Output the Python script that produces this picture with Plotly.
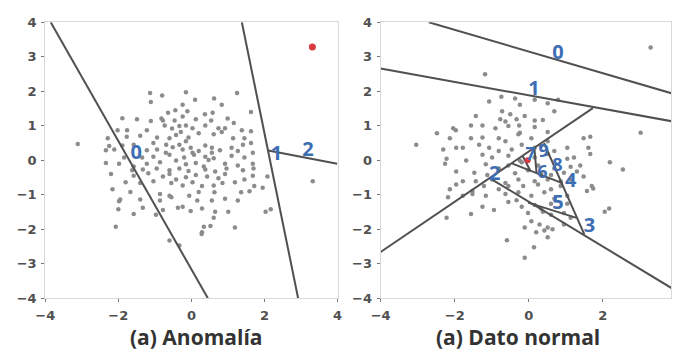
import plotly.graph_objects as go

# ---- panel (a) Anomalía : sample points ----
left_x = [-1.13, -0.80, -0.15, 0.10, 1.25, -1.11, -0.24, 0.62, 0.83, -0.44, -0.64, -0.11, 0.37, 0.58,
          -1.89, -1.49, -1.11, -0.82, -0.78, -0.46, -0.24, 0.12, 0.54, 0.99, 1.63, 1.16,
          -2.02, -1.76, -1.22, -0.73, -0.53, -0.33, -0.15, 0.03, 0.38, 0.74, 0.83, 0.92, 1.38, 1.63,
          -2.29, -1.77, -1.40, -0.94, -0.60, -0.42, -0.29, -0.08, 0.20, 0.61, 1.14, 1.45,
          -3.11, -2.25, -1.89, -1.58, -1.04, -0.69, -0.51, -0.33, -0.15, -0.02, 0.38, 0.56, 1.10, 1.41, 1.63,
          -2.34, -2.11, -1.22, -0.94, -0.70, -0.24, 0.03, 0.20, 0.56, 0.78, 1.27, 1.68,
          -1.84, -1.35, -1.04, -0.60, -0.20, 0.07, 0.38, 0.61, 1.10, 1.45,
          -2.34, -1.98, -1.58, -1.22, -0.86, -0.42, -0.15, 0.12, 0.34, 0.47, 0.92, 1.27, 1.68,
          -1.62, -1.33, -0.95, -0.60, -0.33, -0.08, 0.38, 0.65, 0.96, 1.41, 1.70,
          -2.20, -1.58, -1.18, -0.78, -0.60, -0.42, -0.15, 0.12, 0.43, 0.74, 0.92, 1.45, 1.68, 2.08,
          -1.80, -1.40, -1.04, -0.55, -0.24, 0.03, 0.29, 0.61, 0.85, 1.19, 1.72, 1.95,
          -2.16, -1.67, -0.86, -0.60, -0.55, -0.06, 0.20, 0.63, 1.36, 1.59,
          -1.95, -1.98, -1.40, -0.86, 0.16, 0.56, 0.92, 1.27, 2.17, 2.03,
          -2.00, -1.33, -0.78, -0.37, -0.24, -0.02, 0.29, 0.65, 1.01,
          -1.58, -0.97, -2.07, 0.34, 0.52, 1.19, 0.29, 0.28, 0.61, -0.60, -0.33, 3.32]
left_y = [1.95, 1.88, 1.97, 1.75, 1.95, 1.69, 1.61, 1.79, 1.61, 1.45, 1.38, 1.42, 1.33, 1.38,
          1.22, 1.19, 1.14, 1.21, 1.15, 1.15, 1.27, 1.19, 1.15, 1.21, 1.40, 1.08,
          0.87, 0.87, 0.87, 1.01, 0.92, 0.99, 1.01, 0.93, 1.01, 0.93, 0.82, 0.93, 0.87, 0.84,
          0.64, 0.68, 0.71, 0.66, 0.64, 0.73, 0.82, 0.66, 0.78, 0.75, 0.64, 0.64,
          0.47, 0.41, 0.43, 0.45, 0.50, 0.45, 0.38, 0.45, 0.55, 0.36, 0.43, 0.36, 0.36, 0.45, 0.50,
          0.29, 0.31, 0.29, 0.31, 0.22, 0.31, 0.22, 0.27, 0.22, 0.29, 0.27, 0.22,
          0.08, 0.08, 0.10, 0.16, 0.08, 0.16, 0.10, 0.06, 0.13, 0.08,
          -0.08, -0.10, -0.18, -0.10, -0.06, -0.01, -0.12, -0.08, -0.18, 0.01, -0.10, -0.15, -0.10,
          -0.29, -0.27, -0.24, -0.29, -0.24, -0.31, -0.27, -0.33, -0.24, -0.29, -0.24,
          -0.40, -0.45, -0.38, -0.47, -0.40, -0.56, -0.49, -0.43, -0.47, -0.52, -0.40, -0.56, -0.45, -0.47,
          -0.64, -0.66, -0.61, -0.66, -0.73, -0.64, -0.75, -0.73, -0.66, -0.64, -0.75, -0.80,
          -0.84, -0.92, -0.98, -1.03, -1.07, -1.03, -0.92, -0.93, -0.93, -0.90,
          -1.14, -1.19, -1.14, -1.17, -1.17, -1.17, -1.12, -1.17, -1.42, -1.49,
          -1.42, -1.38, -1.44, -1.38, -1.35, -1.47, -1.40, -1.49, -1.49,
          -1.56, -1.58, -1.93, -1.93, -1.91, -1.95, -2.09, -2.14, -1.67, -2.33, -2.47, -0.61]
left_anomaly_x = [3.31]
left_anomaly_y = [3.28]

# separating lines of the isolation tree, (a)
left_cut_x = [[-3.85, 0.45], [1.38, 2.92], [2.10, 3.99]]
left_cut_y = [[4.0, -4.0], [4.0, -4.0], [0.28, -0.10]]
left_label_text = ["0", "1", "2"]
left_label_x = [-1.51, 2.33, 3.19]
left_label_y = [0.18, 0.16, 0.27]
left_label_size = [20, 20, 20]

# ---- panel (a) Dato normal : sample points ----
right_x = [-1.18, 3.29, -1.07, -0.74, -0.37, -0.24, 0.16, 0.51, 0.79, -0.72, -0.50,
           -1.43, -0.77, -0.63, -0.33, -0.11, 0.16, 0.38, 0.69, -0.26,
           -2.04, -1.97, -1.56, -1.25, -0.90, -0.55, -0.24, 0.16, 0.51,
           -2.48, -2.13, -1.78, -1.56, -1.25, -0.81, -0.63, -0.28, 0.07, 0.51, 1.48, 1.66, 3.02,
           -3.04, -2.31, -1.96, -1.34, -1.07, -0.81, -0.46, -0.19, 0.16, 0.33, 0.69, 1.04, 1.61, 1.66,
           -2.22, -1.25, -0.99, -0.55, -0.24, 0.16, 0.51, 1.04, 1.22,
           -2.26, -1.69, -1.16, -0.81, -0.55, -0.19, 0.25, 0.69, 1.13, 1.39, 2.54, 2.19,
           -1.96, -1.47, -1.12, -0.37, -0.02, 0.33, 0.60, 0.95, 1.30,
           -1.78, -1.43, -0.99, -0.63, -0.28, 0.16, 0.51, 0.86, 1.13, 1.48, 1.70,
           -2.13, -1.96, -1.52, -1.21, -0.81, -0.55, -0.15, 0.25, 0.60, 0.86, 1.57, 1.74,
           -2.18, -1.78, -1.52, -1.16, -0.63, -0.28, 0.07, 0.42, 0.69, 1.04,
           -1.56, -1.25, -0.55, -0.33, -0.19, 0.16, 0.33, 0.60, 1.04,
           -2.22, -0.94, -0.02, 0.38, 0.60, 0.95, 1.13, 2.05, 2.17,
           0.07, 0.29, 0.51, 0.42, 0.64, -0.11, 0.95, 0.20, 0.51, -0.59, 0.14, -0.11]
right_y = [2.49, 3.27, 1.70, 1.84, 1.79, 1.61, 1.75, 1.65, 1.75, 1.42, 1.33,
           1.28, 1.19, 1.12, 1.19, 1.28, 1.15, 1.17, 1.42, 1.01,
           0.93, 0.87, 1.01, 1.01, 0.93, 0.99, 0.80, 0.96, 0.82,
           0.78, 0.64, 0.36, 0.64, 0.66, 0.64, 0.55, 0.75, 0.64, 0.55, 0.64, 0.68, 0.80,
           0.45, 0.31, 0.36, 0.45, 0.36, 0.27, 0.31, 0.45, 0.36, 0.41, 0.27, 0.36, 0.36, 0.18,
           0.04, 0.16, 0.08, 0.13, -0.01, 0.08, 0.18, 0.04, 0.08,
           -0.10, -0.01, -0.12, -0.24, -0.15, -0.06, -0.15, -0.24, -0.19, -0.15, -0.27, -0.06,
           -0.33, -0.36, -0.43, -0.38, -0.29, -0.38, -0.43, -0.36, -0.33,
           -0.61, -0.61, -0.56, -0.66, -0.56, -0.61, -0.56, -0.61, -0.56, -0.47, -0.75,
           -0.84, -0.70, -0.89, -0.75, -0.84, -0.75, -0.75, -0.70, -0.84, -0.75, -0.89, -0.82,
           -1.07, -1.03, -0.98, -1.03, -0.98, -0.93, -1.03, -0.93, -1.12, -1.03,
           -1.56, -1.35, -1.21, -1.16, -1.35, -1.30, -1.40, -1.26, -1.26,
           -1.67, -1.44, -1.53, -1.49, -1.58, -1.53, -1.67, -1.49, -1.40,
           -1.77, -1.86, -1.95, -2.04, -2.00, -1.95, -1.86, -2.09, -2.23, -2.32, -2.52, -2.83]
right_query_x = [-0.03]
right_query_y = [0.0]

# separating lines of the isolation tree, (b)
right_cut_x = [[-2.70, 3.86], [-4.0, 3.86], [-4.0, 1.73], [-0.99, 3.86], [0.41, 1.50],
               [-0.02, 1.29], [-0.46, 0.92], [-0.17, 0.04], [0.15, 0.21]]
right_cut_y = [[4.0, 1.94], [2.66, 1.13], [-2.66, 1.51], [-0.56, -3.71], [0.50, -2.15],
               [-1.23, -1.67], [-0.09, -0.67], [0.13, -0.30], [0.36, -0.37]]
right_label_text = ["0", "1", "2", "3", "4", "5", "6", "7", "8", "9"]
right_label_x = [0.79, 0.14, -0.92, 1.64, 1.13, 0.79, 0.37, 0.05, 0.77, 0.40]
right_label_y = [3.08, 2.04, -0.43, -1.93, -0.64, -1.26, -0.38, 0.14, -0.19, 0.22]
right_label_size = [20, 20, 20, 20, 20, 20, 18, 18, 18, 18]

tick_vals = [-4, -2, 0, 2, 4]
y_tick_vals = [-4, -3, -2, -1, 0, 1, 2, 3, 4]

POINT = "#8c8c8c"
CUT = "#505050"
LABEL = "#3d6db3"
RED = "#d93a3f"

fig = go.Figure()


def add_panel(px, py, cx, cy, lt, lx, ly, ls, hx, hy, xa, ya, red_size):
    fig.add_trace(go.Scatter(x=px, y=py, mode="markers", xaxis=xa, yaxis=ya,
                             marker=dict(size=4.5, color=POINT), hoverinfo="skip"))
    for sx, sy in zip(cx, cy):
        fig.add_trace(go.Scatter(x=sx, y=sy, mode="lines", xaxis=xa, yaxis=ya,
                                 line=dict(color=CUT, width=2), hoverinfo="skip"))
    fig.add_trace(go.Scatter(x=hx, y=hy, mode="markers", xaxis=xa, yaxis=ya,
                             marker=dict(size=red_size, color=RED), hoverinfo="skip"))
    fig.add_trace(go.Scatter(x=lx, y=ly, text=lt, mode="text", xaxis=xa, yaxis=ya,
                             textfont=dict(family="Open Sans", size=ls, color=LABEL, weight="bold"),
                             hoverinfo="skip"))


add_panel(left_x, left_y, left_cut_x, left_cut_y, left_label_text, left_label_x, left_label_y,
          left_label_size, left_anomaly_x, left_anomaly_y, "x", "y", 7)
add_panel(right_x, right_y, right_cut_x, right_cut_y, right_label_text, right_label_x, right_label_y,
          right_label_size, right_query_x, right_query_y, "x2", "y2", 6)

axis_common = dict(showgrid=False, zeroline=False, showline=True, mirror=True,
                   linecolor="#d9d9d9", linewidth=1, ticks="outside", ticklen=3,
                   tickcolor="#777777", tickwidth=1, ticklabelstandoff=2,
                   tickfont=dict(family="DejaVu Sans", size=13, color="#505050", weight="bold"))

caption_font = dict(family="Open Sans", size=21, color="#333333", weight="bold")

fig.update_layout(
    width=676, height=354, margin=dict(l=0, r=0, t=0, b=0),
    paper_bgcolor="white", plot_bgcolor="white", showlegend=False,
    xaxis=dict(domain=[0.0533, 0.4956], range=[-4, 4], tickvals=tick_vals, anchor="y", **axis_common),
    yaxis=dict(domain=[0.141, 0.955], range=[-4, 4], tickvals=y_tick_vals, anchor="x", **axis_common),
    xaxis2=dict(domain=[0.5607, 1.0], range=[-4, 3.84], tickvals=tick_vals, anchor="y2", **axis_common),
    yaxis2=dict(domain=[0.141, 0.955], range=[-4, 4], tickvals=y_tick_vals, anchor="x2", **axis_common),
    annotations=[
        dict(text="(a) Anomalía", x=0.281, y=0.028, xref="paper", yref="paper", showarrow=False,
             xanchor="center", yanchor="middle", font=caption_font),
        dict(text="(a) Dato normal", x=0.768, y=0.028, xref="paper", yref="paper", showarrow=False,
             xanchor="center", yanchor="middle", font=caption_font),
    ],
)

fig.write_html("out.html")
